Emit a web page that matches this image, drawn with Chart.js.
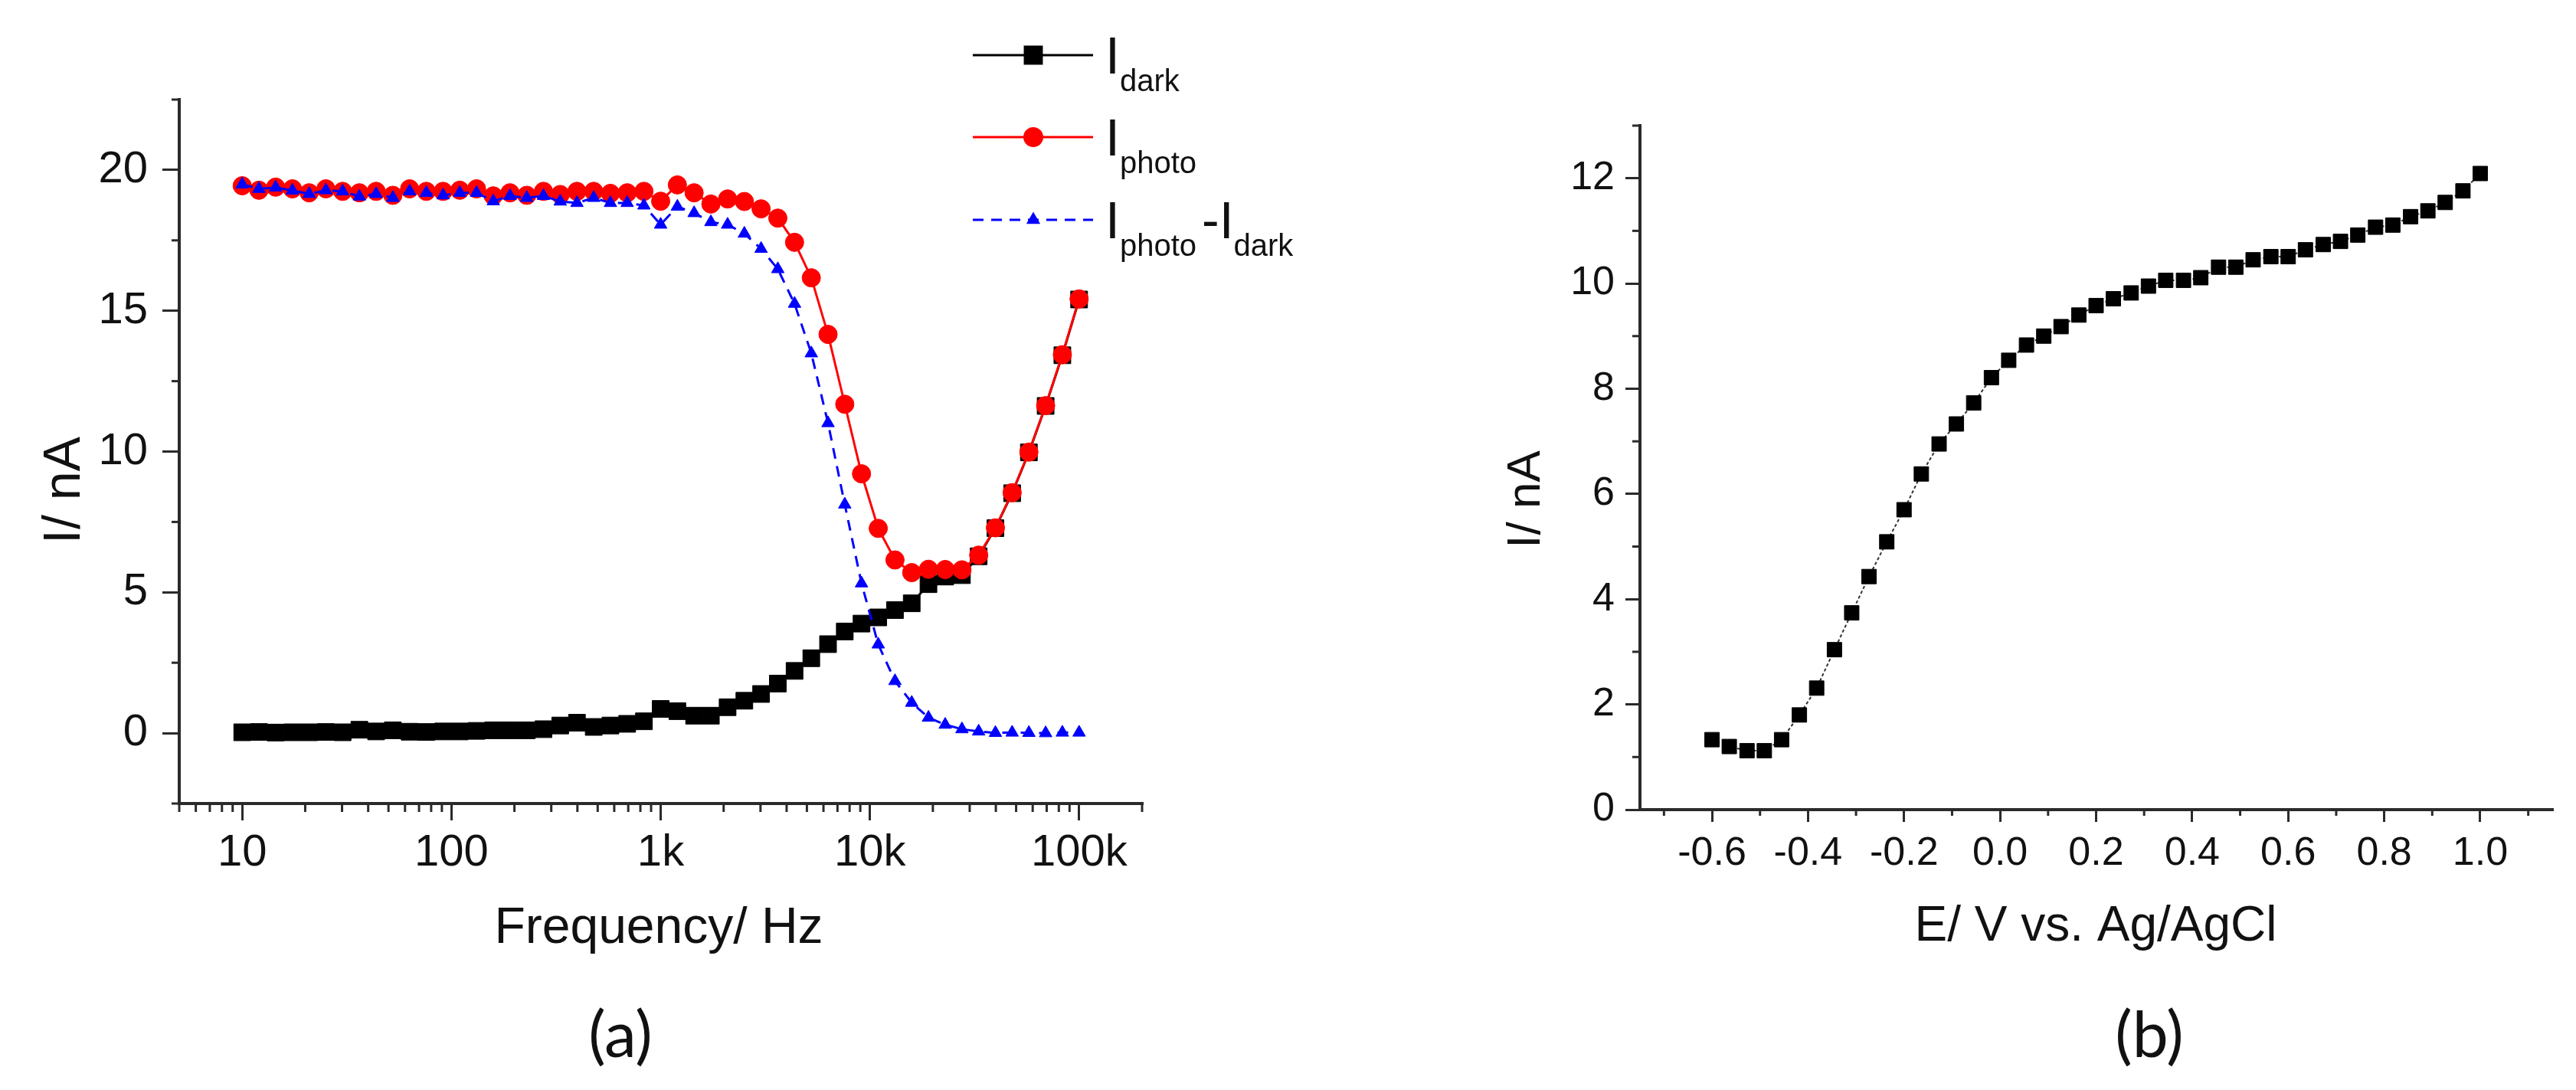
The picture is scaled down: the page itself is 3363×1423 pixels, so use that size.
<!DOCTYPE html>
<html><head><meta charset="utf-8">
<script src="https://cdn.jsdelivr.net/npm/chart.js@4.4.0/dist/chart.umd.min.js"></script>
<style>
html,body{margin:0;padding:0;background:#fff;width:3363px;height:1423px;overflow:hidden;}
canvas{position:absolute;top:0;}
#ca{left:0;width:1700px;height:1423px;}
#cb{left:1700px;width:1663px;height:1423px;}
</style></head><body>
<canvas id="ca" width="1700" height="1423"></canvas>
<canvas id="cb" width="1663" height="1423"></canvas>
<script>
// ---------- Panel (a) data ----------
const freqHz = [10, 12.02, 14.45, 17.38, 20.89, 25.12, 30.2, 36.31, 43.65, 52.48,
  63.1, 75.86, 91.2, 109.6, 131.8, 158.5, 190.5, 229.1, 275.4, 331.1,
  398.1, 478.6, 575.4, 691.8, 831.8, 1000, 1202, 1445, 1738, 2089,
  2512, 3020, 3631, 4365, 5248, 6310, 7586, 9120, 10965, 13183,
  15849, 19055, 22909, 27542, 33113, 39811, 47863, 57544, 69183, 83176, 100000];
const iDark = [0.03, 0.04, 0.02, 0.03, 0.03, 0.04, 0.03, 0.12, 0.06, 0.10,
  0.05, 0.04, 0.06, 0.06, 0.08, 0.10, 0.10, 0.10, 0.14, 0.27,
  0.37, 0.22, 0.27, 0.33, 0.42, 0.86, 0.78, 0.62, 0.62, 0.92,
  1.15, 1.39, 1.76, 2.21, 2.66, 3.16, 3.61, 3.89, 4.11, 4.37,
  4.61, 5.29, 5.56, 5.61, 6.28, 7.28, 8.52, 9.97, 11.62, 13.42, 15.40];
const iPhoto = [19.44, 19.28, 19.39, 19.33, 19.19, 19.33, 19.24, 19.19, 19.24, 19.10,
  19.33, 19.24, 19.24, 19.28, 19.33, 19.08, 19.19, 19.10, 19.24, 19.13,
  19.24, 19.24, 19.17, 19.19, 19.24, 18.89, 19.47, 19.19, 18.79, 18.97,
  18.88, 18.62, 18.29, 17.43, 16.17, 14.16, 11.68, 9.21, 7.27, 6.15,
  5.70, 5.82, 5.81, 5.80, 6.32, 7.29, 8.54, 9.98, 11.63, 13.44, 15.42];
const iDiff = [19.49, 19.33, 19.38, 19.27, 19.15, 19.28, 19.24, 19.06, 19.15, 19.01,
  19.24, 19.19, 19.10, 19.19, 19.19, 18.89, 19.08, 19.01, 19.08, 18.88,
  18.83, 19.01, 18.83, 18.83, 18.74, 18.06, 18.70, 18.47, 18.15, 18.06,
  17.74, 17.20, 16.48, 15.25, 13.49, 11.01, 8.12, 5.32, 3.15, 1.85,
  1.08, 0.55, 0.30, 0.14, 0.06, 0.01, 0.02, 0.01, 0.00, 0.02, 0.02];
const xTicksA = [10, 100, 1000, 10000, 100000];
const xTickLabelsA = ['10', '100', '1k', '10k', '100k'];
const xMinorA = [5, 6, 7, 8, 9, 20, 30, 40, 50, 60, 70, 80, 90, 200, 300, 400, 500, 600, 700, 800, 900,
  2000, 3000, 4000, 5000, 6000, 7000, 8000, 9000, 20000, 30000, 40000, 50000, 60000, 70000, 80000, 90000, 200000];
const yTicksA = [0, 5, 10, 15, 20];
const yMinorA = [-2.5, 2.5, 7.5, 12.5, 17.5, 22.5];
const legendLabelsA = [[['I', 'dark']], [['I', 'photo']], [['I', 'photo'], ['-', ''], ['I', 'dark']]];

// ---------- Panel (b) data ----------
const potentialV = [-0.600, -0.564, -0.527, -0.491, -0.455, -0.418, -0.382, -0.345, -0.309, -0.273,
  -0.236, -0.200, -0.164, -0.127, -0.091, -0.055, -0.018, 0.018, 0.055, 0.091,
  0.127, 0.164, 0.200, 0.236, 0.273, 0.309, 0.345, 0.382, 0.418, 0.455,
  0.491, 0.527, 0.564, 0.600, 0.636, 0.673, 0.709, 0.745, 0.782, 0.818,
  0.855, 0.891, 0.927, 0.964, 1.000];
const currentB = [1.33, 1.20, 1.12, 1.12, 1.33, 1.80, 2.31, 3.04, 3.74, 4.43,
  5.09, 5.70, 6.38, 6.95, 7.33, 7.73, 8.21, 8.54, 8.83, 9.00,
  9.18, 9.40, 9.58, 9.71, 9.82, 9.95, 10.06, 10.06, 10.11, 10.31,
  10.31, 10.45, 10.51, 10.51, 10.64, 10.74, 10.80, 10.92, 11.07, 11.11,
  11.27, 11.38, 11.54, 11.76, 12.09];
const xTicksB = [-0.6, -0.4, -0.2, 0.0, 0.2, 0.4, 0.6, 0.8, 1.0];
const xTickLabelsB = ['-0.6', '-0.4', '-0.2', '0.0', '0.2', '0.4', '0.6', '0.8', '1.0'];
const xMinorB = [-0.7, -0.5, -0.3, -0.1, 0.1, 0.3, 0.5, 0.7, 0.9, 1.1];
const yTicksB = [0, 2, 4, 6, 8, 10, 12];
const yMinorB = [1, 3, 5, 7, 9, 11, 13];

// ---------- styling ----------
const FONT = '"Liberation Sans", Arial, sans-serif';
const AXIS = '#2a2a2a';
const TEXT = '#111111';

function minorTicks(id, xs, ys, xLen, yLen) {
  return {
    id: id,
    afterDraw(chart) {
      const ctx = chart.ctx, ca = chart.chartArea;
      const sx = chart.scales.x, sy = chart.scales.y;
      ctx.save();
      ctx.strokeStyle = AXIS; ctx.lineWidth = 3;
      xs.forEach(v => {
        const p = sx.getPixelForValue(v);
        ctx.beginPath(); ctx.moveTo(p, ca.bottom); ctx.lineTo(p, ca.bottom + xLen); ctx.stroke();
      });
      ys.forEach(v => {
        const p = sy.getPixelForValue(v);
        ctx.beginPath(); ctx.moveTo(ca.left, p); ctx.lineTo(ca.left - yLen, p); ctx.stroke();
      });
      ctx.restore();
    }
  };
}

const textsA = {
  id: 'textsA',
  afterDraw(chart) {
    const ctx = chart.ctx;
    ctx.save();
    ctx.fillStyle = TEXT;
    ctx.textBaseline = 'alphabetic';
    ctx.textAlign = 'center';
    ctx.font = '66px ' + FONT;
    ctx.fillText('Frequency/ Hz', 860, 1231);
    ctx.save();
    ctx.translate(104, 640); ctx.rotate(-Math.PI / 2);
    ctx.font = '68px ' + FONT;
    ctx.fillText('I/ nA', 0, 0);
    ctx.restore();
    ctx.font = '84px Lato, "Open Sans", sans-serif';
    ctx.fillText('(a)', 810, 1380);
    // legend
    const rowsY = [72, 179, 287];
    chart.data.datasets.forEach((ds, i) => {
      const y = rowsY[i];
      ctx.save();
      ctx.strokeStyle = ds.borderColor; ctx.lineWidth = 3;
      ctx.setLineDash(ds.borderDash || []);
      ctx.beginPath(); ctx.moveTo(1270, y); ctx.lineTo(1427, y); ctx.stroke();
      ctx.setLineDash([]);
      ctx.fillStyle = ds.backgroundColor; ctx.strokeStyle = ds.borderColor;
      Chart.helpers.drawPoint(ctx, {pointStyle: ds.pointStyle, radius: ds.legendRadius, rotation: 0, borderWidth: 1}, 1349, y);
      ctx.restore();
      // label with subscripts
      let x = 1443;
      const base = y + 24;
      ctx.textAlign = 'left';
      legendLabelsA[i].forEach((part, k) => {
        ctx.font = '68px ' + FONT;
        ctx.fillText(part[0], x, base);
        x += ctx.measureText(part[0]).width;
        if (part[1]) {
          ctx.font = '40px ' + FONT;
          ctx.fillText(part[1], x, base + 23);
          x += ctx.measureText(part[1]).width + 7;
        }
      });
    });
    ctx.restore();
  }
};

const textsB = {
  id: 'textsB',
  afterDraw(chart) {
    const ctx = chart.ctx;
    ctx.save();
    ctx.fillStyle = TEXT;
    ctx.textBaseline = 'alphabetic';
    ctx.textAlign = 'center';
    ctx.font = '64px ' + FONT;
    ctx.fillText('E/ V vs. Ag/AgCl', 1036, 1228);
    ctx.save();
    ctx.translate(310, 652); ctx.rotate(-Math.PI / 2);
    ctx.font = '62px ' + FONT;
    ctx.fillText('I/ nA', 0, 0);
    ctx.restore();
    ctx.font = '84px Lato, "Open Sans", sans-serif';
    ctx.fillText('(b)', 1106, 1380);
    ctx.restore();
  }
};

function pts(xs, ys) { return xs.map((x, i) => ({x: x, y: ys[i]})); }

function axisGrid(len) {
  return {display: true, drawOnChartArea: false, drawTicks: true, tickLength: len,
          tickWidth: 3, tickColor: AXIS, lineWidth: 3, color: AXIS};
}

new Chart(document.getElementById('ca'), {
  type: 'line',
  data: {
    datasets: [
      {label: 'I dark', data: pts(freqHz, iDark), borderColor: '#000000', backgroundColor: '#000000',
       borderWidth: 3, pointStyle: 'rect', pointRadius: 15.5, pointHoverRadius: 15.5, pointBorderWidth: 1,
       legendRadius: 15.5, order: 3, tension: 0},
      {label: 'I photo', data: pts(freqHz, iPhoto), borderColor: '#ff0000', backgroundColor: '#ff0000',
       borderWidth: 3, pointStyle: 'circle', pointRadius: 12, pointHoverRadius: 12, pointBorderWidth: 1,
       legendRadius: 11.5, order: 2, tension: 0},
      {label: 'I photo - I dark', data: pts(freqHz, iDiff), borderColor: '#0000ff', backgroundColor: '#0000ff',
       borderWidth: 3, borderDash: [14, 10], pointStyle: 'triangle', pointRadius: 9.5, pointHoverRadius: 9.5,
       pointBorderWidth: 1, legendRadius: 7.5, order: 1, tension: 0}
    ]
  },
  options: {
    responsive: false, animation: false, devicePixelRatio: 1,
    layout: {padding: {left: 0, top: 130, right: 209, bottom: 0}},
    plugins: {legend: {display: false}, tooltip: {enabled: false}},
    scales: {
      x: {
        type: 'logarithmic', min: 5, max: 200000,
        afterBuildTicks: s => { s.ticks = xTicksA.map(v => ({value: v})); },
        afterFit: s => { s.height = 374; },
        ticks: {autoSkip: false, maxRotation: 0, padding: 8, color: TEXT,
                font: {family: FONT, size: 58},
                callback: (v, i) => xTickLabelsA[i]},
        grid: axisGrid(22),
        border: {display: true, color: AXIS, width: 4}
      },
      y: {
        type: 'linear', min: -2.5, max: 22.5,
        afterBuildTicks: s => { s.ticks = yTicksA.map(v => ({value: v})); },
        afterFit: s => { s.width = 234; },
        ticks: {autoSkip: false, padding: 19, color: TEXT, font: {family: FONT, size: 58},
                callback: (v) => String(v)},
        grid: axisGrid(22),
        border: {display: true, color: AXIS, width: 4}
      }
    }
  },
  plugins: [minorTicks('minorA', xMinorA, yMinorA, 11, 10), textsA]
});

new Chart(document.getElementById('cb'), {
  type: 'line',
  data: {
    datasets: [
      {label: 'I', data: pts(potentialV, currentB), borderColor: '#333333', backgroundColor: '#000000',
       borderWidth: 2, borderDash: [4, 3], pointStyle: 'rect', pointRadius: 13.4, pointHoverRadius: 13.4,
       pointBorderWidth: 1, pointBorderColor: '#000000', tension: 0}
    ]
  },
  options: {
    responsive: false, animation: false, devicePixelRatio: 1,
    layout: {padding: {left: 0, top: 164, right: 31, bottom: 0}},
    plugins: {legend: {display: false}, tooltip: {enabled: false}},
    scales: {
      x: {
        type: 'linear', min: -0.75, max: 1.15,
        afterBuildTicks: s => { s.ticks = xTicksB.map(v => ({value: v})); },
        afterFit: s => { s.height = 366; },
        ticks: {autoSkip: false, maxRotation: 0, padding: 10, color: TEXT,
                font: {family: FONT, size: 52},
                callback: (v, i) => xTickLabelsB[i]},
        grid: axisGrid(16),
        border: {display: true, color: AXIS, width: 4}
      },
      y: {
        type: 'linear', min: 0, max: 13,
        afterBuildTicks: s => { s.ticks = yTicksB.map(v => ({value: v})); },
        afterFit: s => { s.width = 441; },
        ticks: {autoSkip: false, padding: 14, color: TEXT, font: {family: FONT, size: 52},
                callback: (v) => String(v)},
        grid: axisGrid(19),
        border: {display: true, color: AXIS, width: 4}
      }
    }
  },
  plugins: [minorTicks('minorB', xMinorB, yMinorB, 8, 10), textsB]
});
</script></body></html>
